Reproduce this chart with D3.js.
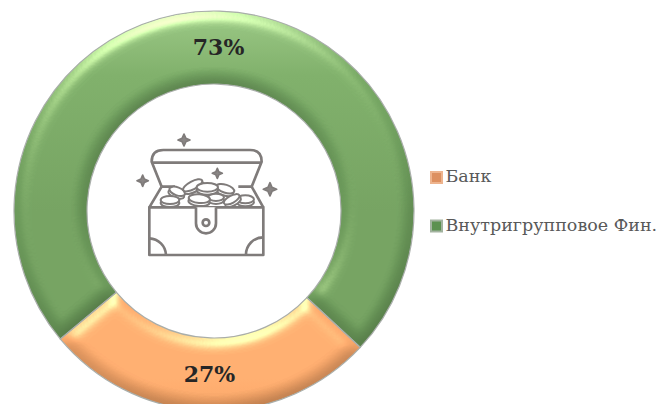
<!DOCTYPE html>
<html>
<head>
<meta charset="utf-8">
<script src="https://cdn.jsdelivr.net/npm/d3@7"></script>
<style>
html, body { margin: 0; padding: 0; background: #fff; }
svg { display: block; }
</style>
</head>
<body>
<script>
var categories = ["Банк", "Внутригрупповое Фин."]
var shares = [27, 73]
var topColors = ["#f8b27a", "#8fbd7c"]
var upperColors = ["#f7ae72", "#74a562"]
var baseColors = ["#f4a468", "#6a9859"]
var lowColors = ["#eb9c60", "#688f56"]
var swatchFill = ["#dd9060", "#5c9150"]
var swatchEdge = ["#eeb48e", "#a3b3a0"]

// sparkles and coins of the chest, in zoomed icon units
var sparkles = [[192, 60, 18], [68, 182, 17], [292, 160, 15], [450, 208, 20]]
var coins = [
    [172, 214, 25, 12, 20], [316, 206, 28, 12, 18], [218, 196, 32, 12, -28], [262, 202, 32, 13, 0],
    [150, 240, 28, 12, 0], [376, 238, 26, 12, 0], [288, 232, 24, 11, 0], [238, 236, 32, 13, 5], [335, 238, 26, 11, -28]
]

var width = 661, height = 404
var cx = 214, cy = 211
var outerR = 200, innerR = 127

var svg = d3.select("body").append("svg")
    .attr("width", width)
    .attr("height", height)

var defs = svg.append("defs")

categories.forEach(function (c, i) {
    var grad = defs.append("linearGradient")
        .attr("id", "ring" + i)
        .attr("gradientUnits", "userSpaceOnUse")
        .attr("x1", 0).attr("y1", -outerR).attr("x2", 0).attr("y2", outerR)
    grad.append("stop").attr("offset", 0).attr("stop-color", topColors[i])
    grad.append("stop").attr("offset", 0.16).attr("stop-color", upperColors[i])
    grad.append("stop").attr("offset", 0.5).attr("stop-color", baseColors[i])
    grad.append("stop").attr("offset", 0.92).attr("stop-color", baseColors[i])
    grad.append("stop").attr("offset", 1).attr("stop-color", lowColors[i])
})

// bevel look, the region is in the ring group's coordinates
var bevel = defs.append("filter")
    .attr("id", "bevel")
    .attr("filterUnits", "userSpaceOnUse")
    .attr("x", -cx).attr("y", -cy).attr("width", width).attr("height", height + 40)
    .attr("color-interpolation-filters", "sRGB")
bevel.append("feGaussianBlur").attr("in", "SourceAlpha").attr("stdDeviation", 7).attr("result", "blur")
bevel.append("feDiffuseLighting")
    .attr("in", "blur").attr("surfaceScale", 2.2).attr("diffuseConstant", 1.155)
    .attr("lighting-color", "#fff").attr("result", "diff")
    .append("feDistantLight").attr("azimuth", 255).attr("elevation", 60)
bevel.append("feComposite")
    .attr("in", "SourceGraphic").attr("in2", "diff")
    .attr("operator", "arithmetic").attr("k1", 1).attr("result", "lit")
bevel.append("feSpecularLighting")
    .attr("in", "blur").attr("surfaceScale", 4).attr("specularConstant", 0.42).attr("specularExponent", 34)
    .attr("lighting-color", "#fff3c8").attr("result", "spec")
    .append("feDistantLight").attr("azimuth", 255).attr("elevation", 50)
bevel.append("feComposite")
    .attr("in", "spec").attr("in2", "SourceAlpha").attr("operator", "in").attr("result", "specIn")
bevel.append("feComposite")
    .attr("in", "lit").attr("in2", "specIn")
    .attr("operator", "arithmetic").attr("k2", 1).attr("k3", 1).attr("result", "out")
bevel.append("feComposite").attr("in", "out").attr("in2", "SourceAlpha").attr("operator", "in")

var pie = d3.pie()
    .sort(null)
    .startAngle(133 * Math.PI / 180)
    .endAngle(493 * Math.PI / 180)

var arc = d3.arc().innerRadius(innerR).outerRadius(outerR)

var ring = svg.append("g").attr("transform", "translate(" + cx + "," + cy + ")")
var arcs = pie(shares)

ring.selectAll("path")
    .data(arcs)
    .enter()
    .append("path")
    .attr("d", arc)
    .attr("fill", function (d, i) { return "url(#ring" + i + ")" })
    .attr("filter", "url(#bevel)")

// thin grey rim that the reference has round the slices
ring.selectAll("path.rim")
    .data(arcs)
    .enter()
    .append("path")
    .attr("class", "rim")
    .attr("d", arc)
    .attr("fill", "none")
    .attr("stroke", "#a9aeaa")
    .attr("stroke-width", 1.2)

ring.selectAll("text")
    .data(arcs)
    .enter()
    .append("text")
    .attr("x", function (d) { return arc.centroid(d)[0] })
    .attr("y", function (d) { return arc.centroid(d)[1] })
    .attr("dy", "0.36em")
    .attr("text-anchor", "middle")
    .attr("font-family", "'DejaVu Serif', serif")
    .attr("font-weight", "bold")
    .attr("font-size", 22)
    .attr("fill", "#262626")
    .text(function (d) { return d.data + "%" })

// treasure chest in the hole
var chest = svg.append("g")
    .attr("transform", "translate(120,120) scale(0.3333)")
    .attr("fill", "none")
    .attr("stroke", "#7f7b7a")
    .attr("stroke-width", 8)
    .attr("stroke-linejoin", "round")

chest.append("path").attr("d", "M125,200 L95,125 Q95,90 130,90 L390,90 Q425,90 425,125 L395,200")
chest.append("path").attr("d", "M97,128 L423,128")
chest.append("path").attr("d", "M125,200 L88,262 M395,200 L430,262 M125,200 L165,200 M355,200 L395,200")

// every coin gets a lower rim first, then its face
coins.forEach(function (c) {
    var coin = chest.append("g")
        .attr("transform", "rotate(" + c[4] + "," + c[0] + "," + c[1] + ")")
        .attr("fill", "#fff")
        .attr("stroke-width", 6)
    coin.append("ellipse").attr("cx", c[0]).attr("cy", c[1] + 9).attr("rx", c[2]).attr("ry", c[3])
    coin.append("ellipse").attr("cx", c[0]).attr("cy", c[1]).attr("rx", c[2]).attr("ry", c[3])
})

chest.append("rect").attr("x", 88).attr("y", 262).attr("width", 342).attr("height", 143).attr("fill", "#fff")
chest.append("path").attr("d", "M228,262 L228,310 A30,30 0 0 0 288,310 L288,262").attr("fill", "#fff")
chest.append("circle").attr("cx", 258).attr("cy", 308).attr("r", 10)
chest.append("path").attr("d", "M88,355 A52,52 0 0 1 138,405 M430,352 A52,52 0 0 0 378,405")

chest.selectAll("path.sparkle")
    .data(sparkles)
    .enter()
    .append("path")
    .attr("class", "sparkle")
    .attr("d", function (d) {
        var r = d[2], k = r * 0.3
        return "M0," + (-r) + " L" + k + "," + (-k) + " L" + r + ",0 L" + k + "," + k +
            " L0," + r + " L" + (-k) + "," + k + " L" + (-r) + ",0 L" + (-k) + "," + (-k) + " Z"
    })
    .attr("transform", function (d) { return "translate(" + d[0] + "," + d[1] + ")" })
    .attr("stroke-width", 5)
    .attr("fill", "#8a8685")

// legend
var legendY = d3.scalePoint().domain(categories).range([182, 230.5])

var legend = svg.append("g")

legend.selectAll("rect")
    .data(categories)
    .enter()
    .append("rect")
    .attr("x", 431)
    .attr("y", function (d) { return legendY(d) - 10 })
    .attr("width", 11)
    .attr("height", 11)
    .attr("fill", function (d, i) { return swatchFill[i] })
    .attr("stroke", function (d, i) { return swatchEdge[i] })
    .attr("stroke-width", 2)

legend.selectAll("text")
    .data(categories)
    .enter()
    .append("text")
    .attr("x", 445.5)
    .attr("y", function (d) { return legendY(d) })
    .attr("font-family", "'DejaVu Serif', serif")
    .attr("font-size", 17.5)
    .attr("fill", "#595959")
    .text(function (d) { return d })
</script>
</body>
</html>
